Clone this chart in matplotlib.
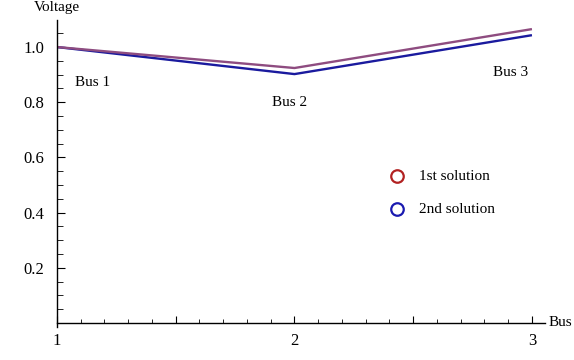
import matplotlib
matplotlib.use("Agg")
import matplotlib.pyplot as plt
from matplotlib.ticker import MultipleLocator, FixedLocator
from matplotlib.lines import Line2D

plt.rcParams['font.family'] = ['Liberation Serif', 'DejaVu Serif']

buses = [1, 2, 3]
bus_labels = ["Bus 1", "Bus 2", "Bus 3"]
sol1 = [1.0, 0.924, 1.065]
sol2 = [1.0, 0.902, 1.043]
series_names = ["1st solution", "2nd solution"]
x_ticks = [1, 2, 3]
y_ticks = [0.2, 0.4, 0.6, 0.8, 1.0]

fig = plt.figure(figsize=(5.74, 3.6), dpi=100)
ax = fig.add_axes([57/574, 37/360, 488/574, 303/360])

ax.plot(buses, sol2, color='#1a1a9e', lw=1.7, solid_capstyle='butt')
ax.plot(buses, sol1, color='#8e4c80', lw=1.7, solid_capstyle='butt')

ax.set_xlim(1, 3.055)
ax.set_ylim(0, 1.098)

for s in ['top', 'right']:
    ax.spines[s].set_visible(False)
ax.spines['left'].set_position(('data', 1))
ax.spines['bottom'].set_position(('data', 0))
ax.spines['left'].set_bounds(-0.015, 1.098)
for s in ['left', 'bottom']:
    ax.spines[s].set_linewidth(1.0)
    ax.spines[s].set_color('black')

ax.xaxis.set_major_locator(FixedLocator([1, 1.5, 2, 2.5, 3]))
ax.xaxis.set_major_formatter(plt.FuncFormatter(lambda v, p: f"{int(v)}" if v in x_ticks else ""))
ax.xaxis.set_minor_locator(MultipleLocator(0.1))
ax.yaxis.set_major_locator(FixedLocator(y_ticks))
ax.yaxis.set_major_formatter(plt.FuncFormatter(lambda v, p: f"{v:.1f}"))
ax.yaxis.set_minor_locator(MultipleLocator(0.05))

ax.tick_params(axis='x', which='major', direction='in', length=5, width=0.8, labelsize=12, pad=7)
ax.tick_params(axis='x', which='minor', direction='in', length=3, width=0.6)
ax.tick_params(axis='y', which='major', direction='in', length=6, width=0.8, labelsize=12, pad=9)
ax.tick_params(axis='y', which='minor', direction='in', length=4, width=0.6)

ax.text(3.07, 0, "Bus", fontsize=11, ha='left', va='center', clip_on=False)
fig.text(57/574, 1 - 8/360, "Voltage", fontsize=11, ha='center', va='center')

label_pos = [(93, 82), (290, 102), (511, 73)]
for lab, (px, py) in zip(bus_labels, label_pos):
    fig.text(px/574, 1 - py/360, lab, fontsize=11, ha='center', va='center')

colors_leg = ['#b22222', '#1a1ab0']
for i, (name, c) in enumerate(zip(series_names, colors_leg)):
    py = 176 + i * 33
    fig.lines.append(Line2D([397/574], [1 - py/360], marker='o', markersize=9,
                            markerfacecolor='none', markeredgecolor=c, markeredgewidth=1.6,
                            transform=fig.transFigure))
    fig.text(419/574, 1 - py/360, name, fontsize=11, ha='left', va='center')

fig.savefig("out.png", dpi=100)
